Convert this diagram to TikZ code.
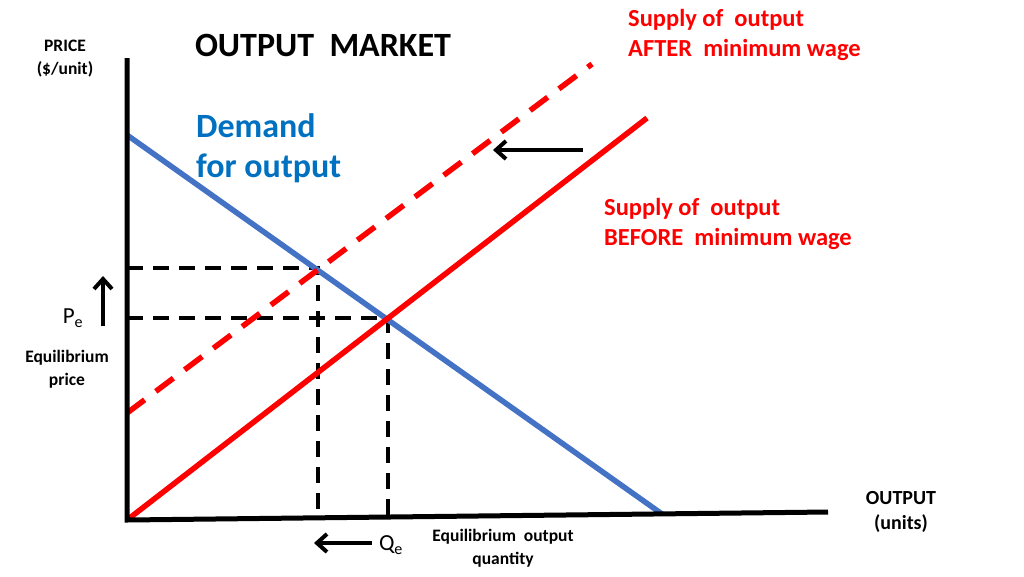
\documentclass[tikz,border=0pt]{standalone}
\usepackage{fontspec}
\setmainfont{Carlito}
\usetikzlibrary{arrows.meta}
\definecolor{dblue}{RGB}{68,114,196}
\definecolor{tblue}{RGB}{0,112,192}
\definecolor{sred}{RGB}{255,0,0}
\begin{document}
\begin{tikzpicture}[x=1pt,y=-1pt,
  lbl/.style={font=\bfseries\fontsize{17.5}{23}\selectfont,align=center,inner sep=0},
  rlbl/.style={text=sred,font=\bfseries\fontsize{24.5}{30}\selectfont,align=left,anchor=north west,inner sep=0},
  guide/.style={black,line width=3.8pt,dash pattern=on 16pt off 10pt},
  bigarrow/.style={black,line width=4pt,-{Straight Barb[length=10pt,width=18pt]}}]
\useasboundingbox (0,0) rectangle (1024,576);
\coordinate (o) at (127,520);
\coordinate (ytop) at (127,58);
\coordinate (xend) at (828,512);
\coordinate (d1) at (127,135); \coordinate (d2) at (662,514);
\coordinate (s2) at (647,118);
\coordinate (a1) at (127,413); \coordinate (a2) at (592,64);
\coordinate (e1) at (318,268); \coordinate (e2) at (388,318);
\coordinate (e1y) at (127,268); \coordinate (e1x) at (318,518);
\coordinate (e2y) at (127,318); \coordinate (e2x) at (388,516);
\draw[guide] (e1y) -- (e1) -- (e1x);
\draw[guide] (e2y) -- (e2) -- (e2x);
\draw[dblue,line width=5.5pt] (d1) -- (d2);
\draw[sred,line width=5.5pt] (o) -- (s2);
\draw[sred,line width=5.5pt,dash pattern=on 22pt off 14pt] (a1) -- (a2);
\draw[black,line width=5pt] (ytop) -- (o) -- (xend);
\coordinate (ar1) at (583,150); \coordinate (ar2) at (493,150);
\draw[bigarrow] (ar1) -- (ar2);
\coordinate (au1) at (103,326); \coordinate (au2) at (103,276);
\draw[bigarrow] (au1) -- (au2);
\coordinate (al1) at (372,543); \coordinate (al2) at (314,543);
\draw[bigarrow] (al1) -- (al2);
\node[lbl] (price) at (65,59) {PRICE\\(\$/unit)};
\node[font=\bfseries\fontsize{34}{36}\selectfont,inner sep=0] (title) at (323,45) {OUTPUT\ \ MARKET};
\node[rlbl] (after) at (628,9) {Supply of\ \ output\\AFTER\ \ minimum wage};
\node[rlbl] (before) at (604,198) {Supply of\ \ output\\BEFORE\ \ minimum wage};
\node[text=tblue,font=\bfseries\fontsize{34}{40}\selectfont,align=left,anchor=north west,inner sep=0] (dem) at (196,113) {Demand\\for output};
\node[font=\fontsize{23}{26}\selectfont,inner sep=0] (pe) at (73,318) {P\textsubscript{e}};
\node[lbl] (eqp) at (67,369) {Equilibrium\\price};
\node[font=\fontsize{23}{26}\selectfont,inner sep=0] (qe) at (391,545) {Q\textsubscript{e}};
\node[lbl] (eqq) at (503,548) {Equilibrium\ \ output\\quantity};
\node[lbl,font=\bfseries\fontsize{20}{25}\selectfont] (outl) at (901,512) {OUTPUT\\(units)};
\end{tikzpicture}
\end{document}
